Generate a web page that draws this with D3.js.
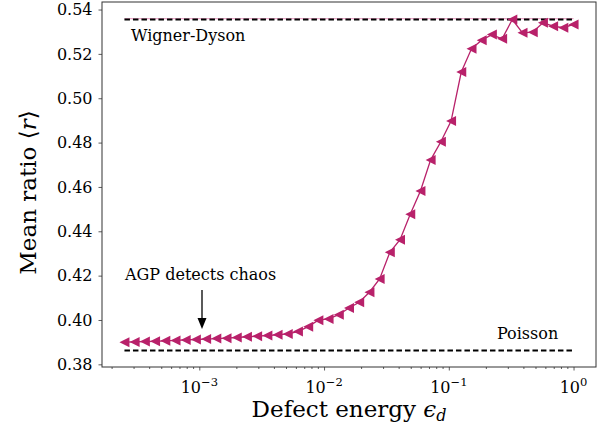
<!DOCTYPE html>
<html>
<head>
<meta charset="utf-8">
<script src="https://cdn.jsdelivr.net/npm/d3@7"></script>
<style>
  body { margin: 0; background: #fff; }
  svg text { font-family: "DejaVu Serif", serif; fill: #000; }
</style>
</head>
<body>
<div id="chart"></div>
<script>
// defect energies (log spaced) en gemeten <r>
const energies = [
  2.512e-4, 3.032e-4, 3.662e-4, 4.420e-4, 5.337e-4, 6.443e-4, 7.779e-4, 9.391e-4,
  1.1338e-3, 1.3689e-3, 1.6527e-3, 1.9953e-3, 2.409e-3, 2.908e-3, 3.511e-3, 4.239e-3,
  5.118e-3, 6.179e-3, 7.460e-3, 9.006e-3, 1.0873e-2, 1.3127e-2, 1.5849e-2, 1.9134e-2,
  2.3101e-2, 2.789e-2, 3.367e-2, 4.065e-2, 4.908e-2, 5.925e-2, 7.154e-2, 8.637e-2,
  0.10428, 0.12589, 0.15199, 0.18350, 0.22154, 0.26747, 0.32292, 0.38986,
  0.47068, 0.56826, 0.68606, 0.82829, 1.0
];
const meanRatio = [
  0.3900, 0.3901, 0.3903, 0.3904, 0.3906, 0.3908, 0.3910, 0.3912,
  0.3914, 0.3916, 0.3918, 0.3921, 0.3924, 0.3927, 0.3930, 0.3933,
  0.3937, 0.3948, 0.3970, 0.3999, 0.4005, 0.4024, 0.4054, 0.4080,
  0.4125, 0.4185, 0.4305, 0.4362, 0.4477, 0.4582, 0.4722, 0.4804,
  0.4897, 0.5118, 0.5223, 0.5262, 0.5287, 0.5268, 0.5355, 0.5295,
  0.5298, 0.5340, 0.5325, 0.5318, 0.5333
];
const poissonValue = 0.3863;
const wignerDysonValue = 0.5359;
const yTicks = [0.38, 0.40, 0.42, 0.44, 0.46, 0.48, 0.50, 0.52, 0.54];
const xTickExponents = [-3, -2, -1, 0];

const kleur = "#b8216a";

const width = 611, height = 432;
const margin = { top: 2, right: 15, bottom: 65, left: 102 };

const svg = d3.select("#chart").append("svg")
  .attr("width", width)
  .attr("height", height);

// schalen
const x = d3.scaleLog()
  .domain([Math.pow(10, -3.78), Math.pow(10, 0.18)])
  .range([margin.left, width - margin.right]);
const y = d3.scaleLinear()
  .domain([0.3788, 0.5434])
  .range([height - margin.bottom, margin.top]);

const data = energies.map((e, i) => ({ e: e, r: meanRatio[i] }));

// referentielijnen
const xmin = energies[0], xmax = energies[energies.length - 1];
svg.append("line")
  .attr("x1", x(xmin)).attr("x2", x(xmax))
  .attr("y1", y(wignerDysonValue)).attr("y2", y(wignerDysonValue))
  .attr("stroke", "#e9a6c6").attr("stroke-width", 1.2);
[wignerDysonValue, poissonValue].forEach(v => {
  svg.append("line")
    .attr("x1", x(xmin)).attr("x2", x(xmax))
    .attr("y1", Math.round(y(v)) + 0.5).attr("y2", Math.round(y(v)) + 0.5)
    .attr("stroke", "#000").attr("stroke-width", 2)
    .attr("stroke-dasharray", "5.5,3");
});

// lijn + markers
svg.append("path")
  .datum(data)
  .attr("fill", "none")
  .attr("stroke", kleur)
  .attr("stroke-width", 1.3)
  .attr("d", d3.line().x(d => x(d.e)).y(d => y(d.r)));

const r = 5;
svg.append("g").selectAll("path")
  .data(data)
  .join("path")
  .attr("transform", d => `translate(${x(d.e)},${y(d.r)})`)
  .attr("d", `M${-r},0L${r},${-r}L${r},${r}Z`)
  .attr("fill", kleur);

// assen
const xAxis = d3.axisBottom(x).tickSize(3.5).tickValues(xTickExponents.map(p => Math.pow(10, p))).tickFormat("");
const gx = svg.append("g").attr("transform", `translate(0,${height - margin.bottom})`).call(xAxis);

// minor ticks
const minor = [];
for (let p = -4; p <= 0; p++) {
  for (let m = 2; m <= 9; m++) {
    const v = m * Math.pow(10, p);
    if (v >= x.domain()[0] && v <= x.domain()[1]) minor.push(v);
  }
}
gx.selectAll(".minor").data(minor).join("line")
  .attr("class", "minor")
  .attr("x1", d => x(d)).attr("x2", d => x(d))
  .attr("y1", 0).attr("y2", 2)
  .attr("stroke", "#333").attr("stroke-width", 0.8);

const gy = svg.append("g").attr("transform", `translate(${margin.left},0)`)
  .call(d3.axisLeft(y).tickValues(yTicks).tickSize(3.5).tickFormat(d3.format(".2f")).tickPadding(6));

[gx, gy].forEach(g => {
  g.selectAll(".domain").remove();
  g.selectAll(".tick line").attr("stroke", "#333").attr("stroke-width", 0.8);
});
gy.selectAll(".tick text").attr("font-size", 16).attr("font-family", "DejaVu Serif").attr("fill", "#000");

// x tick labels 10^p
xTickExponents.forEach(p => {
  const t = svg.append("text")
    .attr("x", x(Math.pow(10, p)))
    .attr("y", 393)
    .attr("text-anchor", "middle")
    .attr("font-size", 16);
  t.append("tspan").text("10");
  t.append("tspan").attr("dy", -7).attr("font-size", 11.5).text(p < 0 ? "\u2212" + (-p) : "" + p);
});

// frame
svg.append("rect")
  .attr("x", margin.left).attr("y", margin.top)
  .attr("width", width - margin.left - margin.right)
  .attr("height", height - margin.top - margin.bottom)
  .attr("fill", "none").attr("stroke", "#333").attr("stroke-width", 1);

// labels
const xl = svg.append("text")
  .attr("x", (margin.left + width - margin.right) / 2)
  .attr("y", 417)
  .attr("text-anchor", "middle")
  .attr("font-size", 23);
xl.append("tspan").text("Defect energy ");
xl.append("tspan").attr("font-style", "italic").text("\u03f5");
xl.append("tspan").attr("font-style", "italic").attr("font-size", 16).attr("dy", 4).text("d");

const yl = svg.append("text")
  .attr("transform", `translate(36,${(margin.top + height - margin.bottom) / 2 + 8}) rotate(-90)`)
  .attr("text-anchor", "middle")
  .attr("font-size", 23);
yl.append("tspan").text("Mean ratio \u27e8");
yl.append("tspan").attr("font-style", "italic").text("r");
yl.append("tspan").text("\u27e9");

svg.append("text").attr("x", 131).attr("y", 41).attr("font-size", 16).text("Wigner-Dyson");
svg.append("text").attr("x", 497).attr("y", 339).attr("font-size", 16).text("Poisson");
svg.append("text").attr("x", 125).attr("y", 280).attr("font-size", 16).text("AGP detects chaos");

// pijl
const ax = 202;
svg.append("line")
  .attr("x1", ax).attr("x2", ax).attr("y1", 290).attr("y2", 322)
  .attr("stroke", "#000").attr("stroke-width", 1.3);
svg.append("path")
  .attr("d", `M${ax - 4.5},318L${ax + 4.5},318L${ax},329Z`)
  .attr("fill", "#000");
</script>
</body>
</html>
